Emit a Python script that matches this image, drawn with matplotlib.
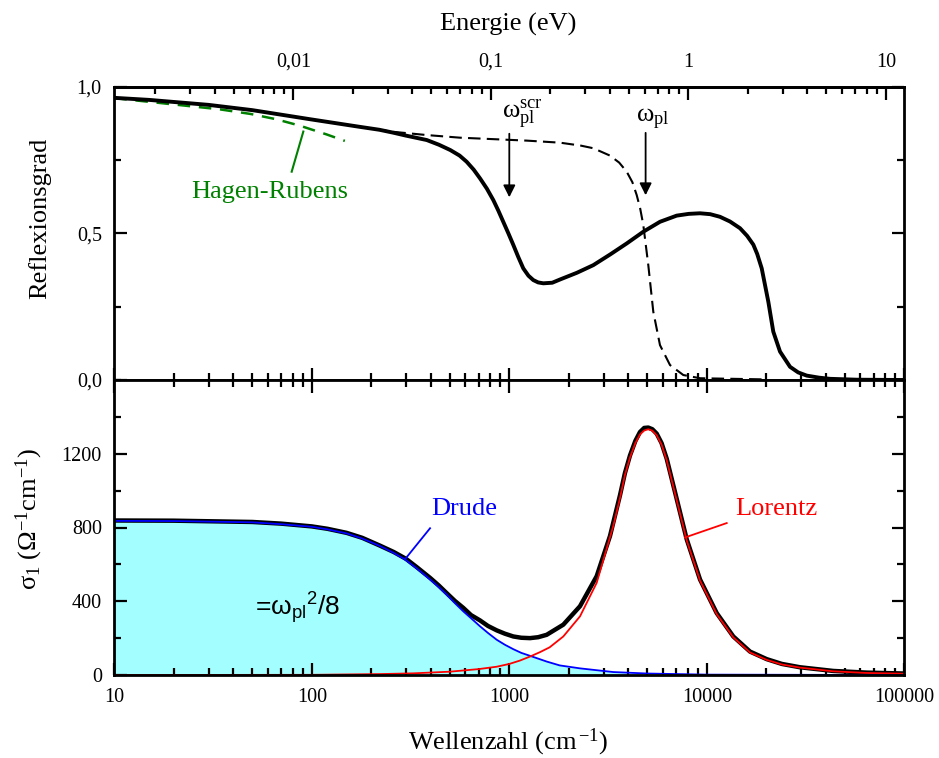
import matplotlib
matplotlib.use("Agg")
import matplotlib.pyplot as plt
from matplotlib.ticker import FixedLocator, FixedFormatter, LogLocator, NullFormatter, MultipleLocator

plt.rcParams['font.family'] = ['Liberation Serif', 'DejaVu Serif']
plt.rcParams['mathtext.fontset'] = 'custom'
plt.rcParams['mathtext.rm'] = 'Liberation Serif'
plt.rcParams['mathtext.it'] = 'Liberation Serif:italic'

# --- Reflexionsgrad (top panel) ---
refl_wn = [10, 15, 30, 50, 98, 140, 175, 220, 259, 300, 382, 440, 502, 560, 608, 660, 711, 770,
           830, 880, 932, 990, 1048, 1110, 1177, 1250, 1323, 1400, 1487, 1650, 1806, 2200, 2663,
           3250, 3930, 4770, 5794, 7040, 8100, 9240, 10400, 11660, 13100, 14730, 16000, 17200,
           18000, 18970, 20490, 21710, 23480, 26390, 29000, 32050, 37000, 42060, 57410, 100000]
refl = [0.963, 0.956, 0.939, 0.921, 0.890, 0.874, 0.864, 0.854, 0.844, 0.834, 0.819, 0.803,
        0.785, 0.766, 0.745, 0.718, 0.688, 0.653, 0.614, 0.578, 0.540, 0.500, 0.461, 0.420,
        0.381, 0.356, 0.341, 0.333, 0.330, 0.332, 0.343, 0.366, 0.392, 0.429, 0.466, 0.506,
        0.540, 0.561, 0.567, 0.569, 0.566, 0.557, 0.541, 0.518, 0.492, 0.462, 0.430, 0.381,
        0.267, 0.165, 0.097, 0.045, 0.026, 0.015, 0.008, 0.004, 0.001, 0.0]

drude_refl_wn = [10, 15, 30, 50, 98, 140, 175, 259, 382, 563, 898, 1225, 1806, 2300, 2663, 3231,
                 3600, 3930, 4200, 4417, 4600, 4770, 5056, 5359, 5794, 6512, 7603, 9240, 20000]
drude_refl = [0.963, 0.956, 0.939, 0.921, 0.890, 0.874, 0.864, 0.847, 0.836, 0.827, 0.821,
              0.817, 0.810, 0.800, 0.791, 0.766, 0.742, 0.711, 0.675, 0.631, 0.585, 0.529,
              0.392, 0.233, 0.119, 0.051, 0.017, 0.006, 0.002]

hr_wn = [10, 19, 34, 49, 66, 87, 119, 147]
hr = [0.962, 0.942, 0.924, 0.908, 0.890, 0.868, 0.838, 0.816]

# --- sigma_1 (bottom panel) ---
drude_wn = [10, 20, 50, 70, 100, 120, 150, 180, 221, 260, 296, 340, 397, 440, 482, 530, 585,
            640, 711, 780, 864, 950, 1048, 1150, 1273, 1546, 1800, 2280, 3362, 5000, 10000,
            100000]
drude = [836, 835, 828, 818, 804, 790, 768, 740, 700, 662, 627, 578, 518, 476, 436, 390, 345,
         308, 264, 228, 191, 164, 140, 120, 104, 73, 52, 36, 16, 8, 2, 0]

lor_wn = [10, 100, 221, 327, 500, 700, 864, 1000, 1130, 1273, 1430, 1600, 1877, 2280, 2770, 3362,
          3635, 3850, 4085, 4350, 4590, 4820, 5056, 5300, 5576, 5900, 6266, 7040, 7912, 9240,
          11220, 13620, 16550, 20110, 24000, 29640, 43700, 64440, 100000]
lor = [0, 1, 5, 9, 18, 32, 45, 60, 78, 100, 124, 150, 209, 318, 500, 809, 960, 1085, 1180, 1258,
       1305, 1326, 1333, 1325, 1300, 1250, 1165, 948, 730, 512, 330, 204, 122, 82, 57, 40, 20,
       11, 7]

total_wn = [10, 20, 50, 70, 100, 120, 150, 180, 221, 260, 300, 340, 397, 440, 482, 530, 585,
            640, 711, 780, 864, 950, 1048, 1150, 1273, 1400, 1546, 1877, 2280, 2770, 3235, 3635,
            3850, 4085, 4350, 4590, 4820, 5056, 5300, 5576, 5900, 6266, 7040, 7912, 9240, 11220,
            13620, 16550, 20110, 24000, 29640, 43700, 64440, 100000]
total = [838, 837, 830, 821, 806, 793, 771, 744, 702, 667, 630, 585, 527, 485, 444, 402, 364,
         325, 296, 266, 242, 224, 209, 202, 200, 205, 218, 273, 373, 536, 754, 975, 1095, 1191,
         1270, 1318, 1340, 1342, 1333, 1309, 1258, 1173, 955, 736, 518, 336, 209, 127, 86, 60,
         42, 22, 13, 8]

ev_ticks = [0.01, 0.1, 1, 10]
ev_labels = ['0,01', '0,1', '1', '10']
wn_ticks = [10, 100, 1000, 10000, 100000]
r_ticks = [0.0, 0.5, 1.0]
r_labels = ['0,0', '0,5', '1,0']
s_ticks = [0, 400, 800, 1200]

CM_PER_EV = 8065.54
TICK_FS = 14.5
LABEL_FS = 19

W, H = 939, 758
fig = plt.figure(figsize=(W / 100, H / 100), dpi=100)
ax1 = fig.add_axes([114.3 / W, 1 - 380 / H, 790 / W, 293 / H])
ax2 = fig.add_axes([114.3 / W, 1 - 675 / H, 790 / W, 295 / H])

for ax in (ax1, ax2):
    ax.set_xscale('log')
    ax.set_xlim(10, 100000)
    for s in ax.spines.values():
        s.set_linewidth(2)
    ax.tick_params(which='both', direction='in', width=1.6, labelsize=TICK_FS,
                   left=True, right=True)
    ax.tick_params(which='major', length=9, pad=9)
    ax.tick_params(which='minor', length=5)
    ax.xaxis.set_minor_locator(LogLocator(base=10, subs=range(2, 10), numticks=20))
    ax.xaxis.set_minor_formatter(NullFormatter())

# top panel
ax1.plot(drude_refl_wn, drude_refl, color='k', lw=1.5, ls=(0, (6, 3)))
ax1.plot(hr_wn, hr, color='#008000', lw=1.8, ls=(0, (5, 3.5)))
ax1.plot(refl_wn, refl, color='k', lw=2.8, solid_joinstyle='round')
ax1.set_ylim(0, 1.0)
ax1.yaxis.set_major_locator(FixedLocator(r_ticks))
ax1.yaxis.set_major_formatter(FixedFormatter(r_labels))
ax1.yaxis.set_minor_locator(MultipleLocator(0.25))
ax1.tick_params(axis='x', which='both', bottom=True, top=False, labelbottom=False)

sec = ax1.secondary_xaxis('top', functions=(lambda w: w / CM_PER_EV, lambda e: e * CM_PER_EV))
sec.xaxis.set_major_locator(FixedLocator(ev_ticks))
sec.xaxis.set_major_formatter(FixedFormatter(ev_labels))
sec.xaxis.set_minor_locator(LogLocator(base=10, subs=range(2, 10), numticks=20))
sec.xaxis.set_minor_formatter(NullFormatter())
sec.tick_params(which='both', direction='in', width=1.6, labelsize=TICK_FS)
sec.tick_params(which='major', length=9, pad=11)
sec.tick_params(which='minor', length=5)
sec.spines['top'].set_linewidth(2)

# annotations top
ax1.annotate('', xy=(1000, 0.614), xytext=(1000, 0.85),
             arrowprops=dict(arrowstyle='-|>', color='k', lw=1.3, mutation_scale=18))
ax1.annotate('', xy=(4900, 0.621), xytext=(4900, 0.853),
             arrowprops=dict(arrowstyle='-|>', color='k', lw=1.3, mutation_scale=18))
ax1.text(1172, 0.905, r'$\mathrm{ω}_{\mathrm{pl}}^{\mathrm{scr}}$', fontsize=LABEL_FS,
         ha='center', va='center')
ax1.text(5341, 0.89, r'$\mathrm{ω}_{\mathrm{pl}}$', fontsize=LABEL_FS, ha='center', va='center')
ax1.text(61.4, 0.643, 'Hagen-Rubens', color='#008000', fontsize=LABEL_FS,
         ha='center', va='center')
ax1.plot([79.1, 90.6], [0.711, 0.848], color='#008000', lw=1.5)

# bottom panel
ax2.fill_between(drude_wn, drude, 0, color='#a3ffff', lw=0)
ax2.plot(total_wn, total, color='k', lw=3.2, solid_joinstyle='round')
ax2.plot(drude_wn, drude, color='#0000ff', lw=1.3)
ax2.plot(lor_wn, lor, color='#ff0000', lw=1.3)
ax2.set_ylim(0, 1600)
ax2.yaxis.set_major_locator(FixedLocator(s_ticks))
ax2.yaxis.set_minor_locator(MultipleLocator(200))
ax2.xaxis.set_major_locator(FixedLocator(wn_ticks))
ax2.xaxis.set_major_formatter(FixedFormatter([str(t) for t in wn_ticks]))
ax2.tick_params(axis='x', which='both', bottom=True, top=True, labeltop=False)

ax2.text(590, 900, 'Drude', color='#0000ff', fontsize=LABEL_FS, ha='center', va='center')
ax2.plot([397, 296], [796, 627], color='#0000ff', lw=1.3)
ax2.text(22390, 900, 'Lorentz', color='#ff0000', fontsize=LABEL_FS, ha='center', va='center')
ax2.plot([12615, 7757], [824, 746], color='#ff0000', lw=1.3)
ax2.text(85, 365, r'=$\mathregular{ω_{pl}{}^{2}}$/8', fontsize=LABEL_FS,
         family=['Liberation Sans', 'DejaVu Sans'], ha='center', va='center')

# axis labels
fig.text(508 / W, 1 - 24 / H, 'Energie (eV)', fontsize=LABEL_FS, ha='center', va='center')
fig.text(508 / W, 1 - 742 / H, r'Wellenzahl (cm$^{\,\mathrm{-1}}$)', fontsize=LABEL_FS,
         ha='center', va='center')
fig.text(39.5 / W, 1 - 218 / H, 'Reflexionsgrad', fontsize=LABEL_FS, rotation=90,
         ha='center', va='center')
fig.text(29 / W, 1 - 519 / H, r'$\mathrm{σ}_1$ $(\mathrm{Ω}^{-1}\mathrm{cm}^{-1})$',
         fontsize=LABEL_FS, rotation=90, ha='center', va='center')

fig.savefig('out.png', dpi=100)
